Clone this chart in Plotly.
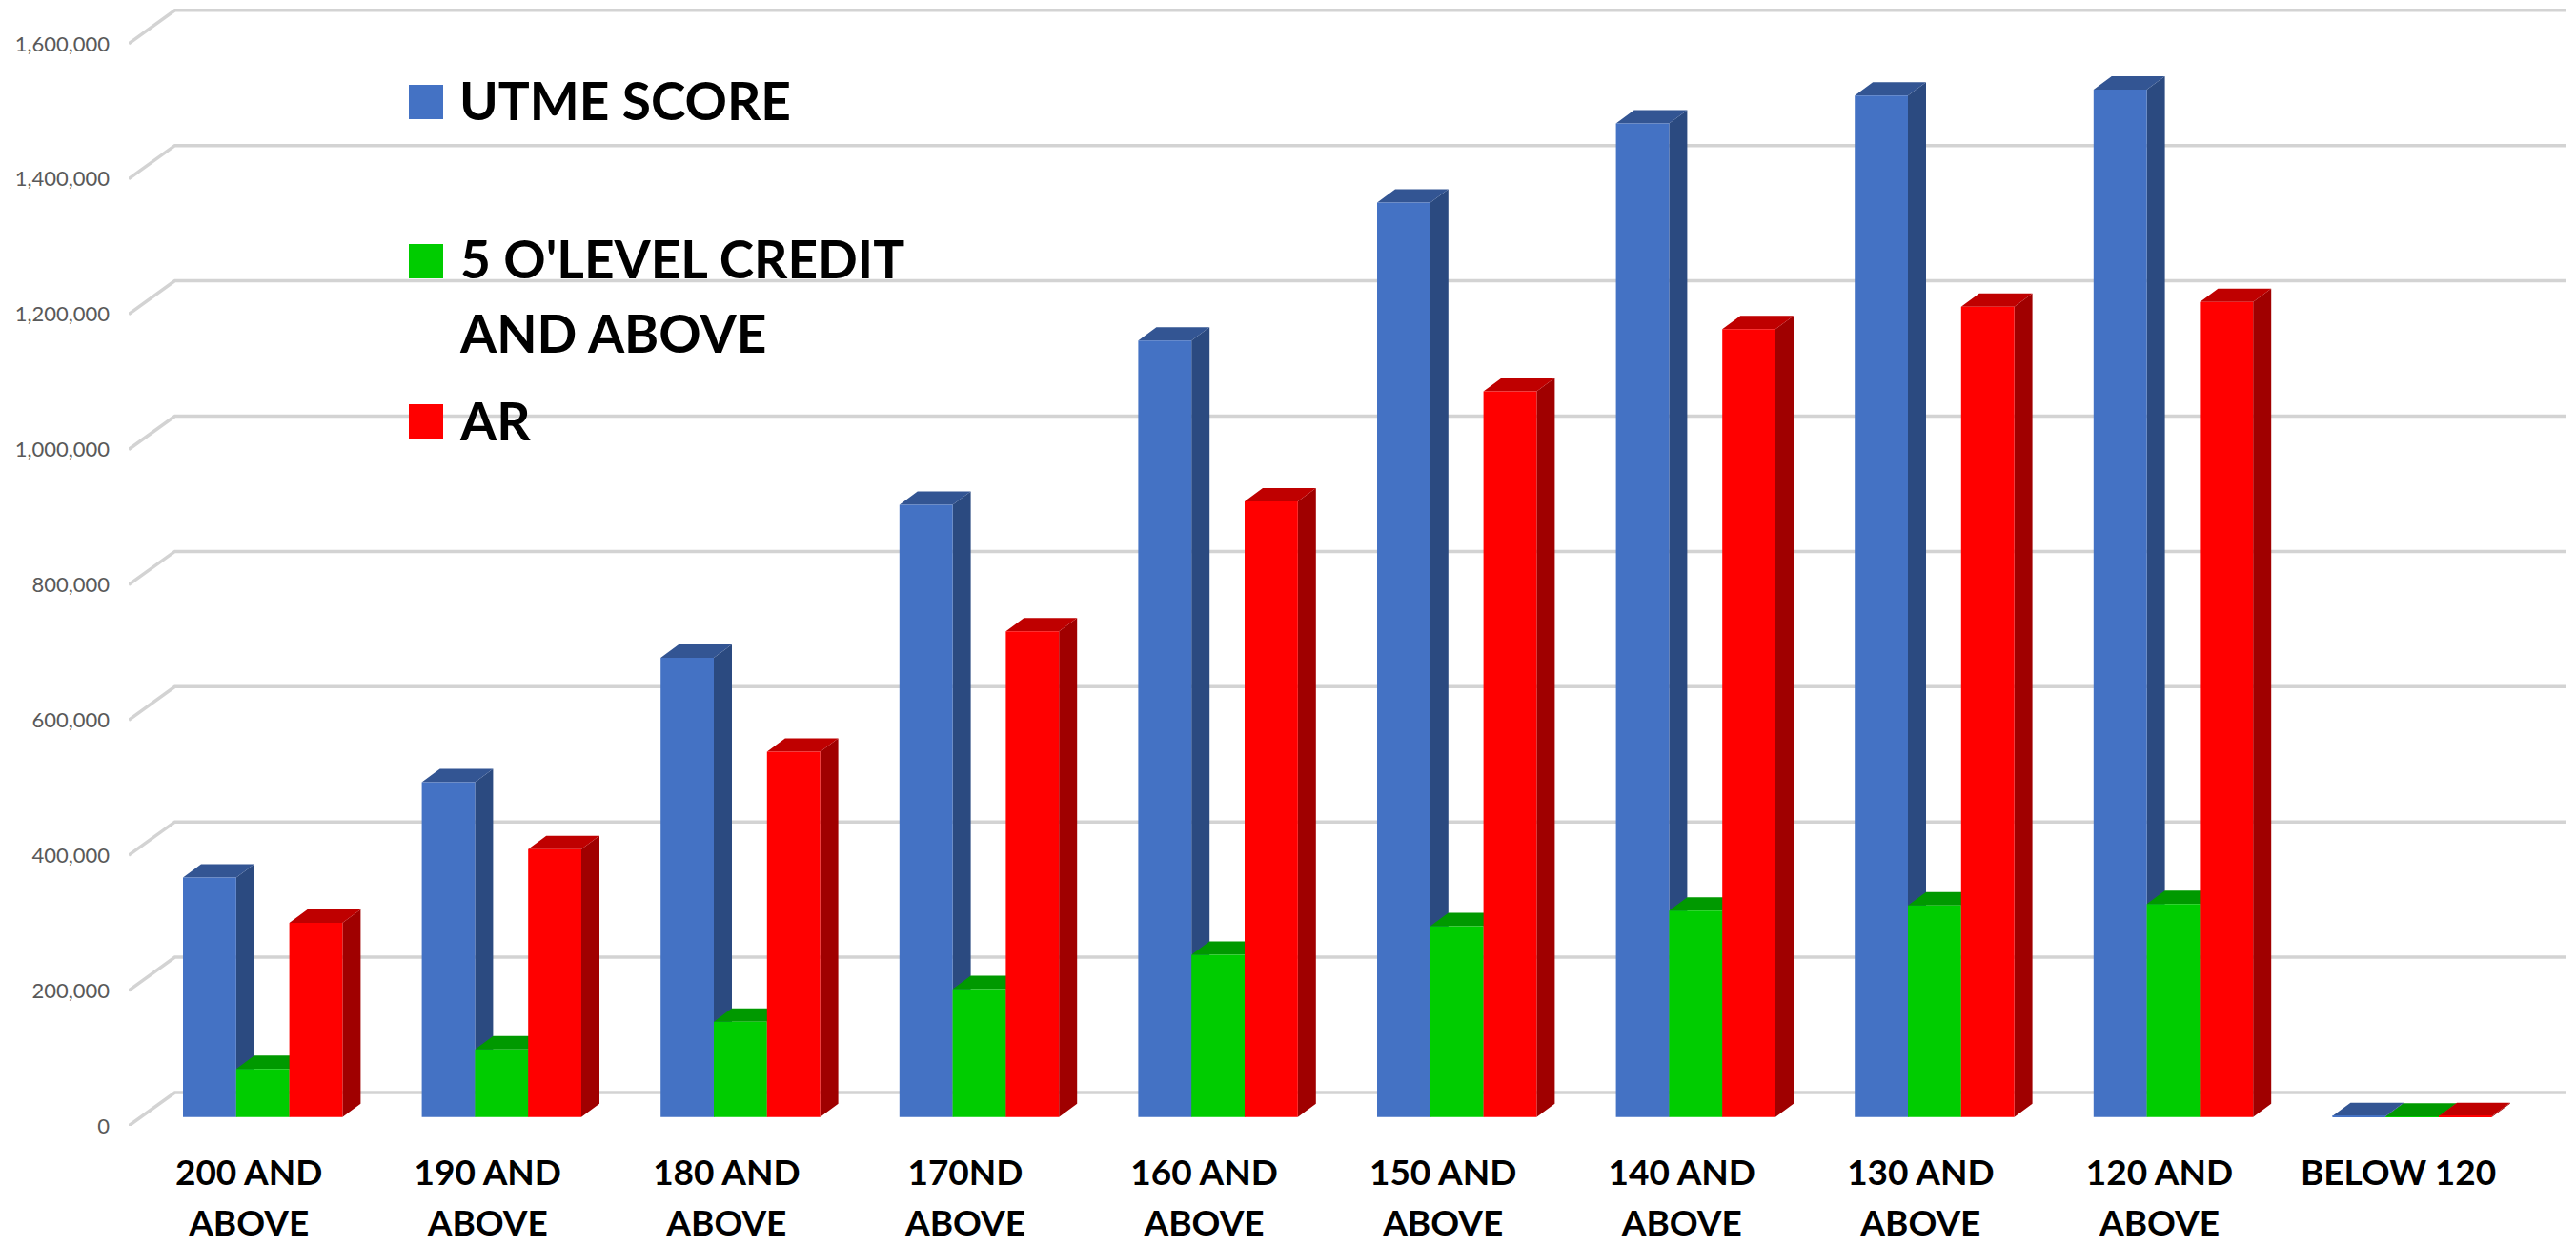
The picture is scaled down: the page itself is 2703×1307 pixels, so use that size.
import plotly.graph_objects as go

categories = ["200 AND ABOVE", "190 AND ABOVE", "180 AND ABOVE", "170ND ABOVE", "160 AND ABOVE",
              "150 AND ABOVE", "140 AND ABOVE", "130 AND ABOVE", "120 AND ABOVE", "BELOW 120"]
utme_score = [354000, 495000, 679000, 905000, 1148000, 1352000, 1469000, 1510000, 1519000, 1500]
olevel = [71000, 100000, 141000, 189000, 240000, 282000, 305000, 313000, 315000, 500]
ar = [287000, 396000, 540000, 718000, 910000, 1073000, 1165000, 1198000, 1205000, 1500]
series_names = ["UTME SCORE", "5 O'LEVEL CREDIT<br>AND ABOVE", "AR"]
y_ticks = [0, 200000, 400000, 600000, 800000, 1000000, 1200000, 1400000, 1600000]

front_colors = ["#4472C4", "#00CC00", "#FF0000"]
top_colors = ["#335593", "#009900", "#BF0000"]
side_colors = ["#2B4A80", "#008800", "#A00000"]

W, H = 2703, 1307
L, R, BOT = 135, 2692, 1181          # plot box in page pixels
PX_PER_UNIT_Y = 141.9 / 200000
PITCH = 250.6
Y_HI = BOT / PX_PER_UNIT_Y
X_LO = (L - 275.7) / PITCH
X_HI = (R - 275.7) / PITCH


def dv(px):
    return px / PX_PER_UNIT_Y


BAR_W = 55.8 / PITCH
BAR_PLANE = dv(9.3)      # bars stand 9.3 px above the front floor edge
DEPTH_X = 19 / PITCH
DEPTH_Y = dv(14)
WALL_X = 48.5 / PITCH
WALL_Y = dv(35)
positions = list(range(len(categories)))
all_series = [utme_score, olevel, ar]

fig = go.Figure()

# walls: gridlines folded along the floor edge
gx, gy = [], []
for v in y_ticks:
    gx += [X_LO, X_LO + WALL_X, X_HI, None]
    gy += [v, v + WALL_Y, v + WALL_Y, None]
fig.add_trace(go.Scatter(x=gx, y=gy, mode="lines", line=dict(color="#D3D3D3", width=3.5),
                         hoverinfo="skip", showlegend=False, cliponaxis=False))

# depth faces (under the bars' front faces)
for j, vals in enumerate(all_series):
    sx, sy, tx, ty = [], [], [], []
    for p, v in zip(positions, vals):
        x0 = p + (j - 1.5) * BAR_W
        x1 = x0 + BAR_W
        base = BAR_PLANE
        top = v + BAR_PLANE
        sx += [x1, x1 + DEPTH_X, x1 + DEPTH_X, x1, x1, None]
        sy += [top, top + DEPTH_Y, base + DEPTH_Y, base, top, None]
        tx += [x0, x1, x1 + DEPTH_X, x0 + DEPTH_X, x0, None]
        ty += [top, top, top + DEPTH_Y, top + DEPTH_Y, top, None]
    fig.add_trace(go.Scatter(x=sx, y=sy, mode="lines", fill="toself", fillcolor=side_colors[j],
                             line=dict(width=0), hoverinfo="skip", showlegend=False))
    fig.add_trace(go.Scatter(x=tx, y=ty, mode="lines", fill="toself", fillcolor=top_colors[j],
                             line=dict(width=0), hoverinfo="skip", showlegend=False))

# front faces
for j, vals in enumerate(all_series):
    fig.add_trace(go.Bar(x=positions, y=vals, name=series_names[j].replace("<br>", " "),
                         marker=dict(color=front_colors[j], line=dict(width=0)),
                         yaxis="y2", showlegend=False))


def tick_text(label):
    if label.endswith("ABOVE"):
        a = label[:-6]
        lines = [a, "ABOVE"]
    else:
        lines = [label]
    return "<br>".join(f'<span style="font-size:37px">{s}</span>' for s in lines)


fig.update_layout(
    width=W, height=H, autosize=False,
    margin=dict(l=L, r=W - R, t=0, b=H - BOT, pad=0, autoexpand=False),
    paper_bgcolor="white", plot_bgcolor="white",
    barmode="group", bargap=1 - 3 * BAR_W, bargroupgap=0,
    showlegend=False,
    xaxis=dict(range=[X_LO, X_HI], showgrid=False, zeroline=False, showline=False, automargin=False,
               tickmode="array", tickvals=[p - 0.058 for p in positions],
               ticktext=[tick_text(c) for c in categories],
               ticks="", tickangle=0, ticklabelstandoff=20,
               tickfont=dict(family="Lato", size=41, color="black", weight=700)),
    yaxis=dict(range=[0, Y_HI], showgrid=False, zeroline=False, showline=False, automargin=False,
               tickmode="array", tickvals=y_ticks, tickformat=",",
               ticks="", ticklabelstandoff=19,
               tickfont=dict(family="Lato", size=22, color="#595959")),
    yaxis2=dict(range=[-BAR_PLANE, Y_HI - BAR_PLANE], overlaying="y", side="left",
                visible=False, automargin=False),
)

# legend, placed as in the picture
swatch_y = [107, 274, 442]
text_y = [105, 310, 441]
for name, color, sy, ty in zip(series_names, front_colors, swatch_y, text_y):
    fig.add_shape(type="rect", xref="paper", yref="paper", line=dict(width=0), fillcolor=color,
                  x0=(429 - L) / (R - L), x1=(465 - L) / (R - L),
                  y0=(BOT - (sy + 18)) / BOT, y1=(BOT - (sy - 18)) / BOT)
    fig.add_annotation(xref="paper", yref="paper", x=(480 - L) / (R - L), y=(BOT - ty) / BOT,
                       xanchor="left", yanchor="middle", align="left", showarrow=False,
                       text="<br>".join(f'<span style="font-size:55px">{s}</span>' for s in name.split("<br>")),
                       font=dict(family="Lato", size=60, color="black", weight=700))

fig.write_html("out.html", config={"displayModeBar": False},
               post_script="document.body.style.margin='0';document.body.style.overflow='hidden';")
